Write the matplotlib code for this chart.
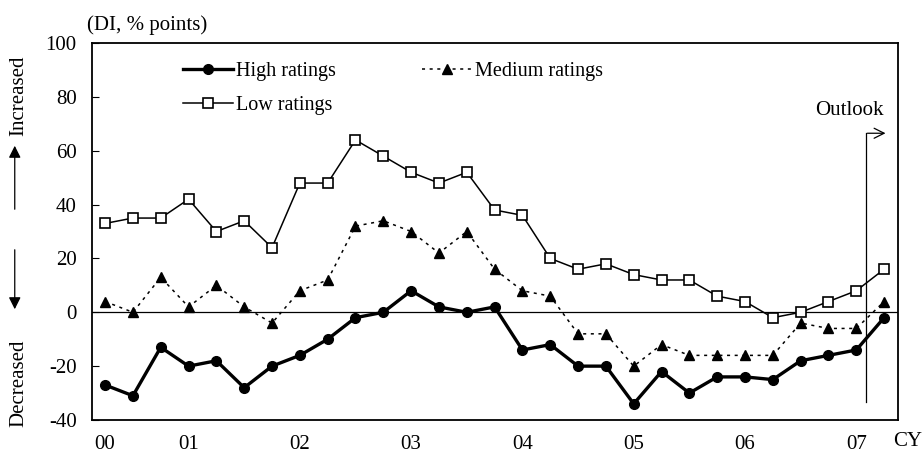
import matplotlib
matplotlib.use('Agg')
import matplotlib.pyplot as plt

plt.rcParams['font.family'] = ['Liberation Serif', 'DejaVu Serif']
plt.rcParams['font.size'] = 15
plt.rcParams['axes.unicode_minus'] = False

# Quarterly DI values, 2000 onwards (last point is the outlook)
high = [-27, -31, -13, -20, -18, -28, -20, -16, -10, -2, 0, 8, 2, 0, 2,
        -14, -12, -20, -20, -34, -22, -30, -24, -24, -25, -18, -16, -14, -2]
medium = [4, 0, 13, 2, 10, 2, -4, 8, 12, 32, 34, 30, 22, 30, 16,
          8, 6, -8, -8, -20, -12, -16, -16, -16, -16, -4, -6, -6, 4]
low = [33, 35, 35, 42, 30, 34, 24, 48, 48, 64, 58, 52, 48, 52, 38,
       36, 20, 16, 18, 14, 12, 12, 6, 4, -2, 0, 4, 8, 16]
year_pos = [0, 3, 7, 11, 15, 19, 23, 27]
year_labels = ['00', '01', '02', '03', '04', '05', '06', '07']

x = list(range(len(high)))

fig = plt.figure(figsize=(9.22, 4.58), dpi=100)
ax = fig.add_axes([0.0998, 0.083, 0.8742, 0.823])

ax.axhline(0, color='black', lw=0.9, zorder=1)

h1, = ax.plot(x, high, color='black', lw=2.4, marker='o', ms=7, label='High ratings', zorder=4)
h2, = ax.plot(x, medium, color='black', lw=1.1, ls=(0, (2, 3)), marker='^', ms=7,
              label='Medium ratings', zorder=3)
h3, = ax.plot(x, low, color='black', lw=1.1, marker='s', ms=6.5, mfc='white', mew=1.2,
              label='Low ratings', zorder=3)

ax.set_xlim(-0.47, 28.5)
ax.set_ylim(-40, 100)
ax.set_yticks(range(-40, 101, 20))
ax.set_xticks(year_pos)
ax.set_xticklabels(year_labels)
ax.tick_params(axis='y', direction='in', length=5, width=0.8, pad=11)
ax.tick_params(axis='x', length=0, pad=11)
for s in ax.spines.values():
    s.set_linewidth(1.3)

ax.legend([h1, h3, h2], ['High ratings', 'Low ratings', 'Medium ratings'],
          ncol=2, loc='upper left', bbox_to_anchor=(0.09, 0.998), frameon=False,
          handlelength=2.5, handletextpad=0.15, columnspacing=4.25, labelspacing=0.72,
          fontsize=14.5)

# outlook marker
ax.plot([27.35, 27.35], [-33.5, 66.5], color='black', lw=0.9)
ax.annotate('', xy=(28.15, 66.5), xytext=(27.3, 66.5),
            arrowprops=dict(arrowstyle='->', color='black', lw=0.9, mutation_scale=18))
ax.text(26.75, 75, 'Outlook', ha='center', va='center')

fig.text(0.094, 0.945, '(DI, % points)', ha='left', va='center')
fig.text(0.984, 0.037, 'CY', ha='center', va='center')

fig.text(0.020, 0.79, 'Increased', rotation=90, ha='center', va='center')
fig.text(0.020, 0.163, 'Decreased', rotation=90, ha='center', va='center')
fig.patches.append(matplotlib.patches.FancyArrowPatch(
    (0.016, 1 - 212 / 458), (0.016, 1 - 143 / 458), transform=fig.transFigure,
    arrowstyle='-|>', mutation_scale=18, color='black', lw=0.9))
fig.patches.append(matplotlib.patches.FancyArrowPatch(
    (0.016, 1 - 247 / 458), (0.016, 1 - 312 / 458), transform=fig.transFigure,
    arrowstyle='-|>', mutation_scale=18, color='black', lw=0.9))

fig.savefig('out.png', dpi=100)
